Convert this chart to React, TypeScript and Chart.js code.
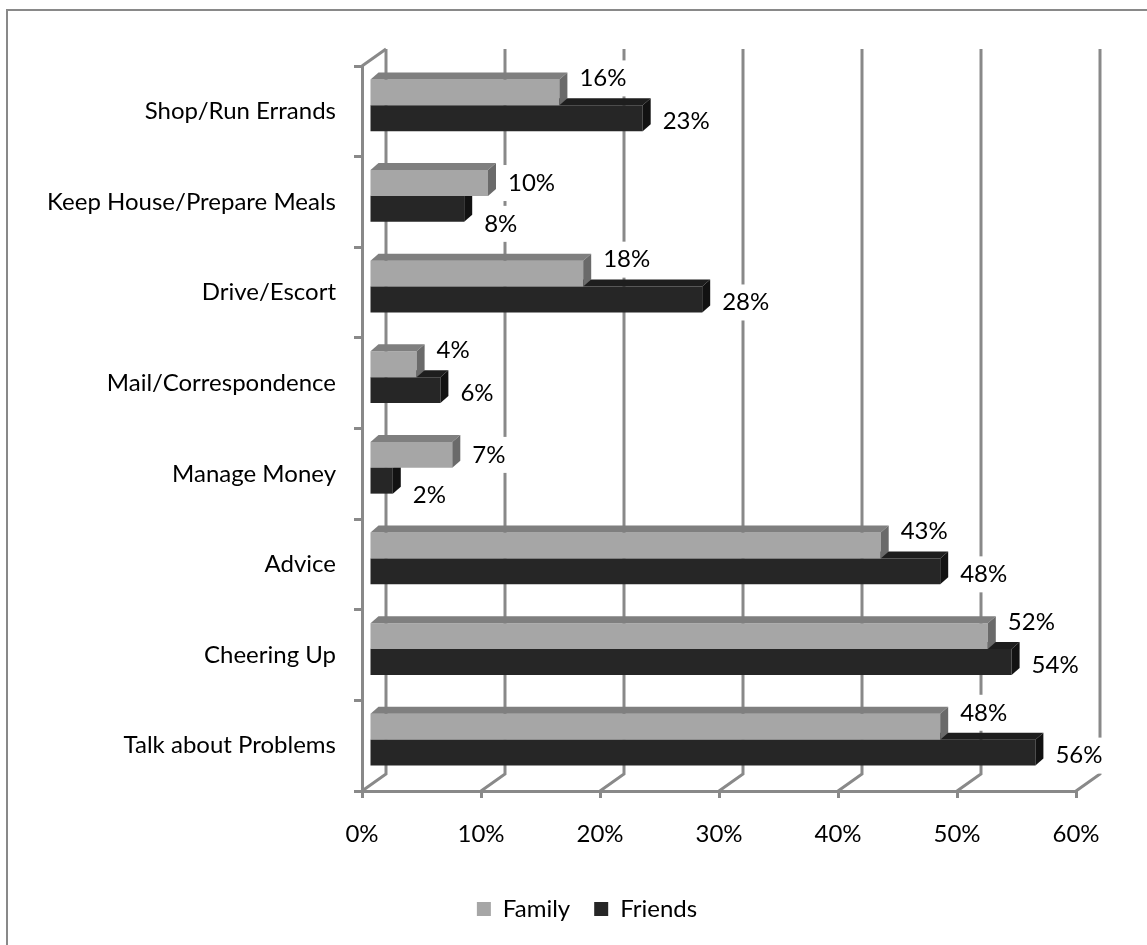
import React, { useEffect, useRef } from "react";
import { Chart, registerables } from "chart.js";

Chart.register(...registerables);

const categories = [
  "Shop/Run Errands",
  "Keep House/Prepare Meals",
  "Drive/Escort",
  "Mail/Correspondence",
  "Manage Money",
  "Advice",
  "Cheering Up",
  "Talk about Problems",
];
const familyValues = [16, 10, 18, 4, 7, 43, 52, 48];
const friendsValues = [23, 8, 28, 6, 2, 48, 54, 56];
const xTickValues = [0, 10, 20, 30, 40, 50, 60];
const seriesNames = ["Family", "Friends"];

const FONT = "Lato, 'Open Sans', sans-serif";
const FS = 24;
const W = 1180;
const H = 934;
const PAD_B = 14;
const AREA_BOTTOM = 780;
const GRAY = "#898989";
const BAR_DX = 7;
const BAR_DY = -6;
const DEPTH_DX = 8;
const DEPTH_DY = -7;
const WALL_DX = 24;
const WALL_DY = -17;

const faceColors = [
  { front: "#a6a6a6", top: "#7f7f7f", side: "#6a6a6a" },
  { front: "#262626", top: "#1e1e1e", side: "#121212" },
];

const threeDPlugin = {
  id: "threeD",
  beforeDatasetsDraw(chart: any) {
    const ctx = chart.ctx;
    const xs = chart.scales.x;
    const area = chart.chartArea;
    ctx.save();
    ctx.strokeStyle = GRAY;
    ctx.lineWidth = 3;
    xTickValues.forEach((v) => {
      const fx = xs.getPixelForValue(v);
      ctx.beginPath();
      ctx.moveTo(fx, area.bottom);
      ctx.lineTo(fx + WALL_DX, area.bottom + WALL_DY);
      ctx.lineTo(fx + WALL_DX, area.top + WALL_DY);
      ctx.stroke();
    });
    const f0 = xs.getPixelForValue(0);
    ctx.beginPath();
    ctx.moveTo(f0, area.top);
    ctx.lineTo(f0 + WALL_DX, area.top + WALL_DY);
    ctx.stroke();

    // data labels (behind the bars, with white boxes)
    ctx.font = `${FS}px ${FONT}`;
    ctx.textBaseline = "middle";
    ctx.textAlign = "left";
    const items: any[] = [];
    const m0 = chart.getDatasetMeta(0);
    const m1 = chart.getDatasetMeta(1);
    categories.forEach((_, j) => {
      const fam = familyValues[j];
      const fri = friendsValues[j];
      const offsets = fri > fam ? [-14, 3] : [0, 15];
      [m0, m1].forEach((meta, i) => {
        const el = meta.data[j];
        const p = el.getProps(["x", "y"], true);
        const val = chart.data.datasets[i].data[j];
        const text = `${val}%`;
        const tx = p.x + BAR_DX + 20;
        const ty = p.y + BAR_DY + offsets[i];
        items.push({ text, tx, ty, w: ctx.measureText(text).width });
      });
    });
    ctx.fillStyle = "#ffffff";
    items.forEach((it) => ctx.fillRect(it.tx - 7, it.ty - 18, it.w + 14, 36));
    ctx.fillStyle = "#000000";
    items.forEach((it) => ctx.fillText(it.text, it.tx, it.ty));
    ctx.restore();
  },
  beforeDatasetDraw(chart: any) {
    chart.ctx.save();
    chart.ctx.translate(BAR_DX, BAR_DY);
  },
  afterDatasetDraw(chart: any, args: any) {
    const ctx = chart.ctx;
    const c = faceColors[args.index];
    args.meta.data.forEach((el: any) => {
      const { x, y, base, height } = el.getProps(["x", "y", "base", "height"], true);
      const top = y - height / 2;
      const bot = y + height / 2;
      ctx.fillStyle = c.top;
      ctx.beginPath();
      ctx.moveTo(base, top);
      ctx.lineTo(base + DEPTH_DX, top + DEPTH_DY);
      ctx.lineTo(x + DEPTH_DX, top + DEPTH_DY);
      ctx.lineTo(x, top);
      ctx.closePath();
      ctx.fill();
      ctx.fillStyle = c.side;
      ctx.beginPath();
      ctx.moveTo(x, top);
      ctx.lineTo(x + DEPTH_DX, top + DEPTH_DY);
      ctx.lineTo(x + DEPTH_DX, bot + DEPTH_DY);
      ctx.lineTo(x, bot);
      ctx.closePath();
      ctx.fill();
    });
    ctx.restore();
  },
};

export default function App() {
  const ref = useRef<HTMLCanvasElement | null>(null);
  useEffect(() => {
    if (!ref.current) return;
    const chart = new Chart(ref.current, {
      type: "bar",
      data: {
        labels: categories,
        datasets: [
          {
            label: seriesNames[0],
            data: familyValues,
            backgroundColor: faceColors[0].front,
            borderWidth: 0,
            clip: false as any,
          },
          {
            label: seriesNames[1],
            data: friendsValues,
            backgroundColor: faceColors[1].front,
            borderWidth: 0,
            clip: false as any,
          },
        ],
      },
      options: {
        indexAxis: "y",
        responsive: false,
        animation: false,
        devicePixelRatio: 1,
        layout: { padding: { top: 55, left: 0, right: 22, bottom: PAD_B } },
        datasets: { bar: { categoryPercentage: 0.57, barPercentage: 1 } },
        scales: {
          x: {
            type: "linear",
            position: "bottom",
            min: 0,
            max: 60,
            afterBuildTicks: (s: any) => {
              s.ticks = xTickValues.map((v) => ({ value: v }));
            },
            ticks: {
              callback: (v: any) => `${v}%`,
              font: { family: FONT, size: FS },
              color: "#000",
              padding: 22,
              maxRotation: 0,
            },
            grid: { drawOnChartArea: false, drawTicks: true, tickLength: 7, color: GRAY, lineWidth: 3 },
            border: { display: true, color: GRAY, width: 3 },
            afterFit: (s: any) => {
              const lh = s.chart.legend ? s.chart.legend.height : 53;
              s.height = Math.max(10, H - PAD_B - lh - AREA_BOTTOM);
            },
          },
          y: {
            type: "category",
            position: "left",
            offset: true,
            ticks: { font: { family: FONT, size: FS }, color: "#000", padding: 18 },
            grid: { drawOnChartArea: false, drawTicks: true, tickLength: 8, color: GRAY, lineWidth: 3, offset: true },
            border: { display: true, color: GRAY, width: 3 },
            afterFit: (s: any) => {
              s.width = 354;
            },
          },
          y2: {
            type: "category",
            position: "right",
            display: true,
            ticks: { display: false },
            grid: { display: false },
            border: { display: false },
            afterFit: (s: any) => {
              s.width = 90;
            },
          },
        },
        plugins: {
          legend: {
            position: "bottom",
            labels: {
              boxWidth: 14,
              boxHeight: 14,
              padding: 24,
              font: { family: FONT, size: FS },
              color: "#000",
            },
          },
          tooltip: { enabled: false },
        },
      } as any,
      plugins: [threeDPlugin],
    });
    return () => chart.destroy();
  }, []);

  return (
    <div style={{ position: "fixed", left: 0, top: 0, width: 1147, height: 945, overflow: "hidden", background: "#fff" }}>
      <div
        style={{
          position: "absolute",
          left: 6,
          top: 9,
          width: 1220,
          height: 1000,
          borderLeft: `2px solid ${GRAY}`,
          borderTop: `2px solid ${GRAY}`,
        }}
      >
        <canvas ref={ref} width={W} height={H} style={{ display: "block", width: W, height: H }} />
      </div>
    </div>
  );
}
